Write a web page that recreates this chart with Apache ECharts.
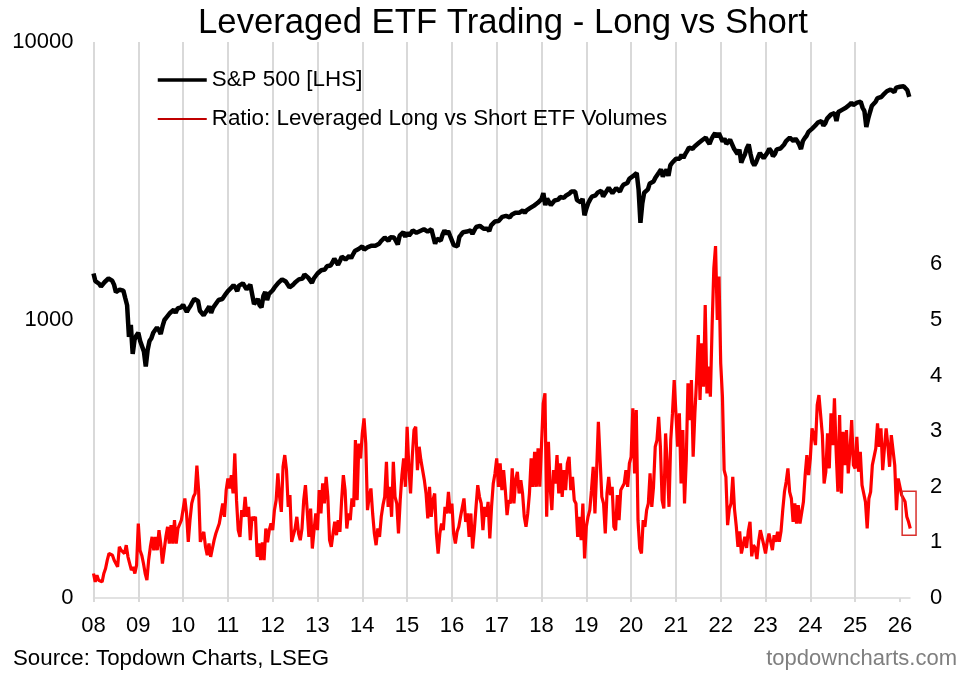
<!DOCTYPE html>
<html>
<head>
<meta charset="utf-8">
<style>html,body{margin:0;padding:0;background:#fff}#c{width:974px;height:675px}</style>
<script src="https://cdn.jsdelivr.net/npm/echarts@6/dist/echarts.min.js"></script>
</head>
<body>
<div id="c"></div>
<script>
const firstYear = 2008;
const yearTicks = [2008,2009,2010,2011,2012,2013,2014,2015,2016,2017,2018,2019,2020,2021,2022,2023,2024,2025,2026];
const ratioPerYear = 26, spPerYear = 24;

// one row per year
const ratioValues = [
  [.44,.29,.41,.32,.35,.29,.44,.53,.68,.80,.83,.77,.68,.62,.56,.92,.86,.89,.80,.95,.74,.62,.50,.56,.44,.59],
  [1.34,.86,.77,.62,.44,.32,.68,.92,1.10,.86,1.10,.86,1.22,.98,.62,.86,1.1,1.28,.98,1.31,.98,1.4,.98,1.25,1.25,1.4],
  [1.40,1.79,1.52,1.01,1.40,1.7,1.82,1.88,2.38,1.94,1.01,1.04,1.19,.92,.77,.98,.74,.89,1.04,1.16,1.25,1.34,1.52,1.7,1.46,1.94],
  [2.15,1.97,2.21,1.88,2.6,1.76,1.22,1.1,1.58,1.46,1.82,1.46,1.64,1.04,1.46,1.4,1.46,.74,.98,.68,1.0,.68,1.25,1.0,1.22,1.34],
  [1.22,1.58,1.76,2.24,1.82,1.55,2.36,2.57,2.3,1.64,1.85,1.01,.98,1.25,1.46,1.16,1.04,1.25,1.76,2.03,1.58,1.1,1.61,.89,1.22,1.52],
  [1.22,1.94,1.52,2.06,1.7,2.18,1.82,1.04,.92,1.16,1.37,1.13,1.4,1.19,1.76,2.21,1.94,1.25,1.52,1.4,1.79,1.64,2.84,1.76,2.78,2.51],
  [2.96,3.23,2.78,1.58,1.82,1.97,1.52,1.16,.95,1.25,1.1,1.46,1.67,1.82,2.45,1.64,2.0,1.46,2.45,1.82,1.7,1.16,1.76,2.21,2.51,2.0],
  [3.08,2.36,1.88,2.54,3.02,3.08,2.3,2.72,2.48,2.3,2.12,1.88,1.43,2.0,1.46,1.76,1.88,1.16,.8,1.16,1.34,1.22,1.64,1.52,1.91,1.52],
  [1.7,1.16,.98,1.19,1.28,1.46,1.43,1.79,1.37,1.52,1.1,1.52,.89,1.22,1.64,2.03,1.82,1.7,1.22,1.64,1.46,1.73,1.07,1.64,2.06,2.24],
  [2.51,2.0,2.42,1.94,2.3,1.94,1.49,1.76,1.7,2.33,1.7,2.12,2.27,1.88,2.12,1.88,1.46,1.28,1.52,1.88,2.51,2.0,2.63,2.0,2.69,2.0],
  [2.75,3.5,3.68,1.46,2.81,2.0,1.58,2.3,2.06,2.57,1.88,2.42,1.82,2.3,1.94,2.42,2.54,1.94,2.18,1.76,1.7,1.1,1.46,1.04,1.7,.71],
  [1.28,1.46,1.58,1.94,2.36,1.52,2.3,3.17,3.14,1.82,1.7,1.16,1.88,2.18,1.85,2.0,1.28,1.22,1.85,1.4,1.94,2.0,2.06,2.3,2.0,2.42],
  [2.54,3.41,2.24,3.38,1.4,.89,.8,1.4,1.28,1.58,1.7,2.24,1.64,2.0,2.72,2.84,3.26,2.72,1.76,1.61,2.96,2.36,1.64,2.84,3.32,3.92],
  [3.32,2.72,3.32,2.06,3.02,1.7,2.48,3.86,3.2,3.92,2.54,3.32,3.92,4.73,3.56,4.58,3.8,5.27,3.68,4.16,3.62,4.88,5.93,6.33,5.0,5.78],
  [4.22,3.62,2.3,2.18,1.31,1.6,1.7,2.18,1.6,1.3,.92,1.2,.8,.77,1.1,.9,1.2,1.37,.75,.95,.9,.7,1.01,1.22,1.22,.95],
  [.8,1.01,1.16,1.13,.86,1.13,1.01,1.19,1.01,1.2,1.58,1.91,2.09,2.33,1.91,1.79,1.37,1.7,1.34,1.67,1.34,1.31,1.73,2.21,2.57,2.21],
  [2.51,3.05,2.93,2.75,3.47,3.65,3.68,2.93,2.06,2.27,2.96,2.33,3.32,2.75,3.59,2.63,1.91,3.29,1.88,2.99,2.39,3.02,2.24,2.63,3.2,2.39],
  [2.33,2.9,2.27,2.63,2.03,1.88,1.73,1.25,1.79,1.91,2.39,2.42,2.69,3.14,2.72,3.05,2.3,2.69,3.05,2.75,2.36,2.93,2.96,2.39,1.58,2.15],
  [2.12,1.85,1.88,1.73,1.46,1.37,1.25]
];

const spValues = [
  [1470,1380,1370,1350,1320,1310,1370,1385,1410,1425,1385,1340,1260,1250,1285,1290,1275,1200,1130,870,960,755,850,880],
  [900,840,840,770,680,780,840,860,900,910,940,920,890,950,1000,1020,1020,1060,1060,1090,1060,1100,1100,1110],
  [1135,1100,1070,1100,1125,1160,1190,1205,1170,1080,1090,1040,1025,1090,1120,1060,1105,1130,1145,1180,1195,1190,1200,1245],
  [1270,1290,1310,1335,1310,1270,1330,1320,1355,1340,1290,1270,1340,1320,1140,1150,1190,1130,1110,1220,1260,1180,1240,1240],
  [1280,1310,1330,1360,1370,1400,1415,1375,1390,1310,1290,1340,1365,1350,1400,1410,1410,1460,1440,1420,1410,1360,1410,1430],
  [1470,1490,1510,1520,1520,1560,1550,1570,1610,1660,1640,1580,1630,1690,1700,1650,1650,1700,1670,1720,1770,1790,1800,1790],
  [1840,1790,1770,1830,1860,1850,1870,1850,1880,1880,1920,1950,1980,1950,1925,1985,2000,1980,1950,1870,2010,2040,2070,1990],
  [2060,2010,2050,2100,2110,2060,2090,2090,2110,2120,2100,2080,2070,2120,2100,1880,1960,1930,1930,2030,2100,2040,2090,2010],
  [2010,1860,1880,1840,1990,2030,2070,2090,2080,2050,2100,2040,2100,2160,2180,2180,2170,2130,2150,2130,2090,2190,2200,2260],
  [2260,2270,2290,2350,2380,2370,2350,2340,2390,2400,2430,2430,2430,2460,2480,2430,2480,2500,2530,2560,2580,2590,2640,2680],
  [2720,2860,2590,2730,2710,2590,2600,2690,2650,2710,2770,2740,2750,2800,2840,2850,2900,2900,2900,2700,2720,2650,2730,2380],
  [2510,2630,2710,2780,2790,2810,2870,2905,2920,2780,2770,2920,2990,3010,2860,2890,2980,3000,2900,3000,3070,3120,3110,3220],
  [3260,3290,3250,3380,2950,2237,2630,2870,2830,2950,3100,3050,3150,3250,3300,3400,3480,3280,3380,3480,3300,3600,3680,3720],
  [3800,3770,3800,3930,3830,3950,4050,4170,4190,4130,4210,4230,4320,4340,4430,4480,4530,4400,4300,4470,4600,4700,4550,4700],
  [4770,4380,4500,4300,4280,4450,4500,4150,4120,3950,4100,3680,3830,3950,4150,4280,3950,3700,3600,3700,3850,3990,4050,3820],
  [3850,4000,4130,4050,3880,3950,4110,4130,4140,4180,4280,4400,4450,4530,4520,4400,4500,4400,4280,4120,4400,4510,4600,4750],
  [4760,4880,4950,5030,5130,5210,5200,5000,5100,5300,5300,5480,5550,5550,5200,5600,5640,5700,5750,5800,5720,5950,6050,5930],
  [5900,6050,6050,6100,5800,5640,4950,5300,5600,5900,5950,6100,6280,6300,6340,6450,6500,6650,6700,6750,6800,6600,6850,6900],
  [6900,6960,6930,6880,6700,6350]
];

const xEnd = 2026.225;
const boxCorners = [[2026.05, 1.92, 2026.36, 1.13]];

const toSeries = (rows, perYear) => rows.flatMap((row, y) => row.map((v, i) => [firstYear + y + i / perYear, v]));
const font = '"Liberation Sans", Arial, sans-serif';
const noSymbol = { color: "rgba(0,0,0,0)", borderColor: "rgba(0,0,0,0)", borderWidth: 0 };

const chart = echarts.init(document.getElementById("c"));
chart.setOption({
  animation: false,
  backgroundColor: "#fff",
  title: [
    { text: "Leveraged ETF Trading - Long vs Short", left: 498, top: 1, textAlign: "center",
      textStyle: { fontFamily: font, fontSize: 34.7, fontWeight: "normal", color: "#000" } },
    { text: "Source: Topdown Charts, LSEG", left: 8, top: 643,
      textStyle: { fontFamily: font, fontSize: 22.3, fontWeight: "normal", color: "#000" } },
    { text: "topdowncharts.com", right: 12, top: 643,
      textStyle: { fontFamily: font, fontSize: 22, fontWeight: "normal", color: "#7f7f7f" } },
  ],
  legend: {
    orient: "vertical", left: 151, top: 64, itemWidth: 49, itemHeight: 24, itemGap: 17,
    textStyle: { fontFamily: font, fontSize: 22.4, color: "#000" },
    data: [
      { name: "S&P 500 [LHS]", itemStyle: noSymbol, lineStyle: { color: "#000", width: 3.5 } },
      { name: "Ratio: Leveraged Long vs Short ETF Volumes", itemStyle: noSymbol, lineStyle: { color: "#c00000", width: 2 } },
    ],
  },
  grid: { left: 93.5, right: 64, top: 42, bottom: 77 },
  xAxis: {
    type: "value", min: firstYear, max: xEnd, interval: 1,
    axisLine: { lineStyle: { color: "#d9d9d9", width: 1.5 } },
    axisTick: { length: 4, lineStyle: { color: "#d9d9d9", width: 2 }, customValues: yearTicks },
    axisLabel: { fontFamily: font, fontSize: 22, color: "#000", margin: 17, customValues: yearTicks, formatter: v => String(v).slice(2) },
    splitLine: { show: true, showMaxLine: false, lineStyle: { color: "#d9d9d9", width: 2 } },
  },
  yAxis: [
    {
      type: "log", logBase: 10, min: 100, max: 10000, position: "left",
      axisLine: { show: false }, axisTick: { show: false }, splitLine: { show: false }, minorSplitLine: { show: false },
      axisLabel: { fontFamily: font, fontSize: 22, color: "#000", margin: 20, formatter: v => v === 100 ? "0" : String(v) },
    },
    {
      type: "value", min: 0, max: 10, interval: 1, position: "right",
      axisLine: { show: false }, axisTick: { show: false }, splitLine: { show: false },
      axisLabel: { fontFamily: font, fontSize: 22, color: "#000", margin: 20, formatter: v => v <= 6 ? String(v) : "" },
    },
  ],
  series: [
    { name: "S&P 500 [LHS]", type: "line", yAxisIndex: 0, symbol: "none", z: 3,
      lineStyle: { color: "#000", width: 4.5 }, itemStyle: { color: "#000" }, data: toSeries(spValues, spPerYear) },
    { name: "Ratio: Leveraged Long vs Short ETF Volumes", type: "line", yAxisIndex: 1, symbol: "none", z: 3,
      lineStyle: { color: "#ff0000", width: 3.2 }, itemStyle: { color: "#c00000" }, data: toSeries(ratioValues, ratioPerYear) },
    { name: "box", type: "custom", yAxisIndex: 1, clip: false, silent: true, z: 4,
      renderItem: (params, api) => {
        const a = api.coord([api.value(0), api.value(1)]), b = api.coord([api.value(2), api.value(3)]);
        return { type: "rect", shape: { x: a[0], y: a[1], width: b[0] - a[0], height: b[1] - a[1] },
          style: { fill: "none", stroke: "#d9302c", lineWidth: 1.5 } };
      },
      data: boxCorners },
  ],
});
</script>
</body>
</html>
